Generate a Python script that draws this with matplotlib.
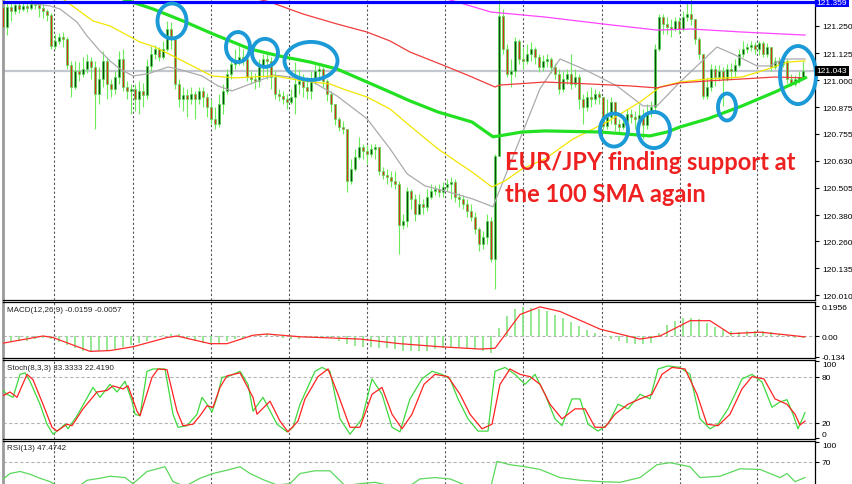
import matplotlib
matplotlib.use("Agg")
import matplotlib.pyplot as plt
import matplotlib.transforms as mtransforms
from matplotlib.patches import Ellipse
import numpy as np

# taille de l'image en pixels
W, H = 852, 485

# --- bougies EUR/JPY (une par barre) ---
first_open = 121.337
closes = [
    121.245, 121.337, 121.319, 121.346, 121.328, 121.342, 121.333, 121.351, 121.346, 121.333,
    121.319, 121.300, 121.158, 121.181, 121.199, 121.190, 121.070, 120.969, 121.043, 121.029,
    121.052, 121.089, 121.061, 120.937, 121.006, 121.089, 120.983, 120.960, 121.015, 121.098,
    120.969, 120.951, 120.960, 120.914, 120.951, 120.932, 121.066, 121.121, 121.144, 121.107,
    121.144, 121.236, 121.190, 120.983, 120.914, 120.932, 120.914, 120.937, 120.914, 120.951,
    120.923, 120.877, 120.822, 120.799, 120.891, 120.951, 121.029, 121.075, 121.089, 121.107,
    121.098, 121.015, 121.006, 120.997, 121.061, 121.098, 121.089, 121.015, 120.937, 120.928,
    120.914, 120.900, 120.923, 120.983, 120.997, 120.969, 120.951, 121.006, 121.043, 121.052,
    120.997, 120.937, 120.891, 120.822, 120.785, 120.776, 120.537, 120.592, 120.647, 120.693,
    120.675, 120.661, 120.684, 120.693, 120.583, 120.564, 120.555, 120.537, 120.523, 120.334,
    120.353, 120.491, 120.454, 120.385, 120.431, 120.417, 120.463, 120.491, 120.500, 120.486,
    120.509, 120.523, 120.532, 120.463, 120.454, 120.431, 120.399, 120.371, 120.316, 120.247,
    120.279, 120.353, 120.178, 120.652, 121.296, 121.144, 121.029, 121.043, 121.181, 121.098,
    121.089, 121.121, 121.144, 121.107, 121.061, 121.089, 121.098, 121.061, 121.029, 120.960,
    121.006, 121.029, 120.983, 121.015, 120.914, 120.877, 120.923, 120.914, 120.937, 120.923,
    120.790, 120.831, 120.900, 120.799, 120.785, 120.804, 120.845, 120.831, 120.822, 120.840,
    120.794, 120.854, 120.877, 121.144, 121.291, 121.259, 121.245, 121.236, 121.273, 121.236,
    121.291, 121.305, 121.282, 121.190, 121.121, 120.928, 120.969, 121.052, 121.015, 121.043,
    121.006, 121.052, 121.043, 121.070, 121.121, 121.144, 121.153, 121.162, 121.144, 121.172,
    121.121, 121.153, 121.061, 121.089, 121.075, 121.089, 121.006, 120.983, 121.006, 121.015,
    121.043,
]
highs = [
    121.360, 121.365, 121.356, 121.365, 121.356, 121.360, 121.356, 121.369, 121.365, 121.356,
    121.351, 121.328, 121.310, 121.213, 121.218, 121.222, 121.199, 121.089, 121.089, 121.084,
    121.107, 121.121, 121.107, 121.089, 121.061, 121.135, 121.107, 121.006, 121.043, 121.135,
    121.144, 120.997, 120.983, 120.983, 120.997, 120.988, 121.098, 121.158, 121.162, 121.153,
    121.181, 121.273, 121.268, 121.144, 121.006, 120.969, 120.960, 120.969, 120.951, 120.969,
    120.969, 120.942, 120.914, 120.877, 120.937, 120.983, 121.052, 121.107, 121.144, 121.158,
    121.144, 121.121, 121.043, 121.034, 121.098, 121.121, 121.121, 121.107, 121.043, 120.960,
    120.951, 120.937, 120.960, 121.084, 121.052, 121.029, 121.015, 121.043, 121.070, 121.070,
    121.061, 121.006, 120.951, 120.891, 120.831, 120.813, 120.776, 120.638, 120.684, 120.739,
    120.707, 120.702, 120.707, 120.707, 120.693, 120.601, 120.592, 120.583, 120.583, 120.537,
    120.385, 120.509, 120.500, 120.477, 120.477, 120.454, 120.500, 120.523, 120.518, 120.523,
    120.532, 120.546, 120.555, 120.546, 120.482, 120.472, 120.454, 120.431, 120.394, 120.325,
    120.307, 120.385, 120.371, 120.661, 121.369, 121.328, 121.167, 121.098, 121.199, 121.190,
    121.153, 121.167, 121.176, 121.153, 121.121, 121.116, 121.121, 121.107, 121.080, 121.052,
    121.043, 121.052, 121.121, 121.052, 121.029, 120.937, 120.951, 120.969, 120.960, 120.951,
    120.923, 120.914, 120.923, 120.900, 120.822, 120.831, 120.868, 120.868, 120.859, 120.891,
    120.868, 120.891, 120.905, 121.167, 121.305, 121.305, 121.291, 121.282, 121.291, 121.291,
    121.319, 121.360, 121.374, 121.282, 121.199, 121.121, 121.015, 121.075, 121.070, 121.070,
    121.061, 121.075, 121.080, 121.098, 121.144, 121.181, 121.172, 121.181, 121.176, 121.181,
    121.181, 121.172, 121.153, 121.107, 121.107, 121.116, 121.098, 121.029, 121.024, 121.043,
    121.089,
]
lows = [
    121.222, 121.208, 121.273, 121.305, 121.310, 121.319, 121.314, 121.323, 121.328, 121.291,
    121.287, 121.273, 121.144, 121.144, 121.167, 121.153, 121.052, 120.923, 120.960, 120.997,
    121.015, 121.034, 121.006, 120.776, 120.891, 120.969, 120.914, 120.923, 120.937, 120.983,
    120.951, 120.914, 120.845, 120.859, 120.845, 120.877, 120.914, 121.043, 121.098, 121.089,
    121.098, 121.135, 121.144, 120.960, 120.877, 120.859, 120.831, 120.891, 120.822, 120.891,
    120.877, 120.831, 120.799, 120.776, 120.785, 120.845, 120.937, 121.006, 121.052, 121.070,
    121.070, 120.997, 120.983, 120.960, 120.969, 121.015, 121.006, 120.960, 120.914, 120.905,
    120.891, 120.868, 120.891, 120.845, 120.937, 120.923, 120.914, 120.914, 120.983, 121.015,
    120.969, 120.905, 120.854, 120.794, 120.767, 120.753, 120.486, 120.523, 120.583, 120.638,
    120.638, 120.615, 120.647, 120.638, 120.564, 120.546, 120.523, 120.509, 120.500, 120.201,
    120.316, 120.325, 120.408, 120.353, 120.385, 120.385, 120.399, 120.454, 120.472, 120.463,
    120.463, 120.491, 120.454, 120.440, 120.417, 120.408, 120.371, 120.353, 120.293, 120.215,
    120.224, 120.247, 120.164, 120.040, 120.652, 121.121, 121.015, 120.969, 121.015, 121.075,
    121.052, 121.075, 121.089, 121.075, 121.038, 121.043, 121.061, 121.034, 121.006, 120.937,
    120.946, 120.983, 120.960, 120.969, 120.868, 120.799, 120.859, 120.877, 120.891, 120.891,
    120.776, 120.776, 120.799, 120.767, 120.753, 120.776, 120.794, 120.804, 120.776, 120.804,
    120.730, 120.776, 120.831, 120.859, 121.135, 121.213, 121.213, 121.199, 121.227, 121.213,
    121.227, 121.273, 121.254, 121.167, 121.098, 120.914, 120.914, 120.951, 120.974, 120.997,
    120.882, 120.997, 121.006, 121.015, 121.061, 121.107, 121.126, 121.135, 121.121, 121.116,
    121.107, 121.107, 121.043, 121.052, 121.043, 121.061, 120.988, 120.974, 120.974, 120.988,
    121.006,
]

# --- moyennes mobiles (index de barre, prix) ---
sma100_x = [28, 30, 37.5, 45, 52.5, 61.75, 69, 76.75, 83.5, 91, 96.75, 101.75, 108.75, 117.25,
            122.5, 124, 129.75, 135.5, 149.25, 161.75, 166, 169.25, 176.25, 184.75, 193, 201]
sma100_y = [121.392, 121.374, 121.328, 121.273, 121.213, 121.144, 121.112, 121.084, 121.052,
            120.992, 120.946, 120.905, 120.854, 120.808, 120.740, 120.744, 120.762, 120.767,
            120.762, 120.744, 120.762, 120.785, 120.823, 120.882, 120.946, 121.015]
sma_red_x = [62.5, 66.75, 75, 83.5, 91, 96.75, 101.75, 110.5, 117.25, 123, 124.25, 135.5,
             146.75, 156.75, 163.5, 169.25, 176.25, 184.75, 193, 200.5]
sma_red_y = [121.379, 121.360, 121.305, 121.259, 121.222, 121.181, 121.130, 121.066, 121.015,
             120.969, 120.978, 120.992, 120.983, 120.974, 120.965, 120.988, 120.997, 121.006,
             121.015, 121.011]
sma_pink_x = [108.5, 111, 122, 135.5, 150, 163.5, 172, 184.75, 200.5]
sma_pink_y = [121.383, 121.374, 121.314, 121.291, 121.259, 121.231, 121.236, 121.222, 121.208]
sma_yellow_x = [13, 15, 22.5, 26.75, 34.25, 38, 43, 52.25, 58, 67.75, 75, 81.75, 85, 91, 96.75,
                101.75, 108.75, 117.25, 122.25, 125.5, 129.75, 135.5, 142.5, 151, 159.25,
                164.25, 169.25, 176.25, 184.75, 191.25, 196.25, 200.5]
sma_yellow_y = [121.39, 121.374, 121.273, 121.250, 121.176, 121.153, 121.107, 121.020, 121.011,
                121.020, 120.997, 120.983, 120.960, 120.923, 120.868, 120.790, 120.684, 120.578,
                120.509, 120.537, 120.592, 120.638, 120.730, 120.808, 120.900, 120.969, 120.992,
                121.006, 121.015, 121.052, 121.084, 121.089]
sma_gray_x = [4.25, 11.75, 14.25, 18.5, 21, 24.25, 26.75, 29.25, 32.5, 36.25, 41.25, 43.75,
              49.75, 53.75, 57.25, 60.5, 67.75, 71.75, 77.5, 83.5, 91, 96.75, 101, 105.5,
              111.25, 117.25, 122.5, 134.25, 139.25, 145, 153.5, 160, 163.5, 169.25, 173.5,
              178.5, 182.5, 188.5, 191.75, 195, 200.5]
sma_gray_y = [121.360, 121.342, 121.328, 121.268, 121.204, 121.135, 121.089, 121.052, 121.020,
              121.030, 121.061, 121.052, 121.020, 120.974, 120.951, 120.974, 121.024, 121.015,
              120.992, 120.928, 120.823, 120.685, 120.570, 120.514, 120.487, 120.455, 120.418,
              120.961, 121.098, 121.053, 120.974, 120.882, 120.882, 120.992, 121.066, 121.153,
              121.121, 121.066, 121.066, 121.098, 121.098]

high_line = 121.359
last_price = 121.043
price_ticks = [121.250, 121.125, 121.000, 120.875, 120.755, 120.630, 120.505, 120.380,
               120.260, 120.135, 120.010]

# --- MACD(12,26,9) : histogramme une barre sur deux, signal en points ---
macd_hist = [
    -0.04, -0.04, -0.035, -0.03, -0.02, -0.015, -0.02, -0.04, -0.06, -0.08,
    -0.095, -0.1, -0.1, -0.095, -0.085, -0.07, -0.06, -0.045, -0.03, -0.015,
    0.005, 0.015, 0.01, -0.01, -0.03, -0.045, -0.05, -0.045, -0.035, -0.02,
    -0.01, 0.005, 0.015, 0.015, 0.005, -0.01, -0.02, -0.02, -0.015, -0.01,
    -0.01, -0.015, -0.03, -0.05, -0.065, -0.07, -0.07, -0.075, -0.08, -0.085,
    -0.095, -0.1, -0.1, -0.095, -0.085, -0.075, -0.07, -0.07, -0.075, -0.085,
    -0.1, -0.11, 0.05, 0.13, 0.175, 0.19, 0.185, 0.175, 0.16, 0.14,
    0.115, 0.09, 0.065, 0.04, 0.02, 0.0, -0.02, -0.035, -0.045, -0.05,
    -0.05, -0.045, 0.02, 0.07, 0.1, 0.115, 0.12, 0.11, 0.085, 0.06,
    0.04, 0.03, 0.025, 0.03, 0.035, 0.035, 0.025, 0.015, 0.005, -0.01,
    -0.016,
]
macd_sig_x = [-0.75, 10, 12.5, 21.75, 26.75, 32.5, 41, 43.5, 51.75, 56, 62.5, 66, 74.25, 89.25,
              99.25, 109.25, 119.25, 123, 129.25, 134.25, 139.25, 149.25, 159.25, 164.25,
              171.75, 176.75, 181.75, 189.25, 196.75, 200.5]
macd_sig_y = [-0.05, 0.0, -0.01, -0.1, -0.095, -0.07, -0.01, 0.0, -0.05, -0.05, 0.005, 0.013,
              -0.005, -0.02, -0.05, -0.07, -0.085, -0.08, 0.14, 0.19, 0.16, 0.045, -0.02, 0.0,
              0.1, 0.1, 0.015, 0.025, 0.005, -0.006]

# --- Stoch(8,3,3) ---
stoch_k_x = [-0.75, 1, 2.5, 4.25, 5.5, 6.75, 9.25, 11, 12.5, 14.25, 15.5, 16.25, 18.5, 22.5,
             24.25, 26.75, 28.5, 30.5, 32.25, 33, 34.25, 36, 37.5, 40.5, 42.5, 43.75, 46, 48.5,
             49.75, 51, 52.25, 53.5, 54.75, 56.75, 59.25, 61.25, 62.5, 65, 68.5, 71, 72.5,
             74.25, 78, 79.75, 81.75, 84.25, 86.75, 89.75, 92.25, 94.75, 97.25, 99.25, 101.75,
             104.75, 107.25, 109.75, 111.75, 113.75, 116.25, 118.75, 121.25, 123, 125.5, 128,
             130.5, 133, 135.5, 138, 139.75, 142.25, 144.25, 146.25, 148.75, 151.25, 153.75,
             156.25, 159.25, 161.75, 163.75, 166.25, 169.25, 171.75, 174.25, 176.75, 178.75,
             181.25, 183, 184.75, 187.25, 189.75, 192.25, 194.25, 196, 197.5, 198.75, 200.5]
stoch_k_y = [66, 57, 53, 83, 85, 74, 44, 18, 5, 12, 18, 12, 29, 66, 53, 70, 60, 74, 48, 31, 29,
             87, 90, 90, 31, 14, 16, 31, 53, 44, 34, 53, 79, 81, 87, 70, 35, 53, 18, 8, 14, 44,
             87, 92, 87, 25, 5, 25, 77, 57, 14, 8, 51, 77, 87, 83, 77, 51, 25, 9, 9, 87, 92, 83,
             70, 83, 57, 25, 16, 51, 51, 18, 9, 18, 44, 38, 57, 51, 90, 94, 92, 83, 25, 12, 18,
             38, 57, 77, 83, 73, 40, 47, 50, 31, 12, 33]
stoch_d_x = [-0.75, 1.75, 3.5, 6, 7.5, 10, 12.25, 13.5, 16, 17.25, 20, 23.5, 26, 27.5, 30,
             31.25, 33.5, 34.25, 37.25, 38.75, 41, 43.5, 45, 47.5, 49.25, 51, 52.5, 54.25, 56,
             59.25, 62.5, 63.5, 66.75, 69.25, 71.25, 73.75, 75.5, 78.75, 81.25, 83.75, 86.75,
             89.25, 92.25, 94.75, 97.25, 99.75, 102.25, 105.25, 108, 111.25, 114.25, 116.75,
             119.75, 122.25, 124.25, 126.75, 129.25, 131.75, 134.25, 136.75, 139.75, 143,
             145.5, 148, 150.5, 153, 156.25, 159.25, 162.25, 164.75, 167.25, 170.5, 173.5, 176,
             178.75, 181.75, 184.75, 187.25, 190.25, 193, 196, 198, 199.25, 200.5]
stoch_d_y = [53, 60, 53, 83, 76, 44, 14, 9, 18, 16, 38, 60, 62, 68, 64, 68, 35, 29, 79, 90, 89,
             35, 16, 18, 29, 42, 40, 66, 81, 85, 53, 31, 48, 22, 8, 22, 51, 80, 90, 57, 14, 14,
             57, 66, 31, 12, 31, 70, 83, 80, 57, 31, 12, 18, 70, 90, 83, 80, 70, 44, 25, 38, 38,
             14, 14, 31, 44, 51, 57, 83, 92, 90, 57, 18, 16, 31, 64, 80, 77, 51, 44, 31, 17, 22]

# --- RSI(13) ---
rsi_x = [-0.75, 1.75, 4.25, 6.75, 9.25, 11.75, 14.25, 18, 21, 24.25, 26.75, 30.5, 32.5, 36,
         40.5, 42.5, 45.5, 49.25, 52.5, 56.75, 59.25, 61.75, 65, 68.5, 71.75, 74.25, 78, 81.75,
         85.5, 89.25, 93, 96.75, 100.5, 104.25, 108, 111.75, 115.5, 119.25, 121.75, 123.5,
         126.75, 130.5, 134.25, 139.25, 144.25, 149.25, 154.25, 159.25, 163.5, 166.75, 171.75,
         174.25, 179.25, 184.25, 189.25, 194.25, 196, 198, 200.5]
rsi_y = [41, 53, 56, 52, 46, 41, 33, 30, 43, 46, 49, 47, 38, 56, 63, 41, 34, 46, 53, 59, 63,
         53, 44, 36, 38, 53, 57, 57, 35, 38, 40, 35, 30, 45, 47, 45, 36, 30, 28, 71, 66, 63, 59,
         47, 43, 41, 40, 47, 66, 69, 63, 47, 49, 60, 59, 47, 53, 41, 47]

# --- cercles bleus et texte d'annotation ---
circle_x = [42.25, 58.75, 65.5, 77, 152.75, 162.75, 181, 198.75]
circle_y = [121.273, 121.153, 121.126, 121.089, 120.771, 120.771, 120.877, 121.024]
circle_w = [7.25, 6, 6.5, 13.25, 7, 8, 4.5, 9]
circle_h = [0.161, 0.138, 0.129, 0.175, 0.152, 0.166, 0.124, 0.267]

# lignes verticales pointillées de la grille (index de barre)
grid_x = [12.75, 32.5, 52, 71.5, 91, 110.5, 130, 149.75, 169.25, 188.5]

fig = plt.figure(figsize=(W / 100, H / 100), dpi=100)
fig.patch.set_facecolor("white")


def px_axes(top, bottom):
    """Créer un axe à partir de bornes verticales en pixels."""
    return fig.add_axes([2.5 / W, 1 - bottom / H, (815 - 2.5) / W, (bottom - top) / H])


def style_panel(ax, ylim, ticks, labels):
    ax.set_xlim(-0.125, 203.0)
    ax.set_ylim(*ylim)
    ax.set_xticks([])
    ax.yaxis.tick_right()
    ax.set_yticks(ticks)
    ax.set_yticklabels(labels, fontsize=6, family="Liberation Sans")
    ax.tick_params(axis="y", length=3, width=0.8, pad=2, colors="black")
    ax.spines["left"].set_color("#9a9a9a")
    ax.spines["left"].set_linewidth(2)
    for s in ("right", "bottom", "top"):
        ax.spines[s].set_color("black")
        ax.spines[s].set_linewidth(0.9)
    for gx in grid_x:
        ax.axvline(gx, color="#555555", lw=0.8, ls=(0, (2, 2)), zorder=0)


# ---------------- graphique principal ----------------
ax = px_axes(0, 301)
style_panel(ax, (119.989, 121.374), price_ticks, [f"{v:.3f}" for v in price_ticks])
ax.spines["top"].set_visible(False)

ax.axhline(last_price, color="#c3c7cf", lw=1.6, zorder=1)
ax.axhline(high_line, color="#0000ff", lw=2.3, zorder=6)

idx = np.arange(len(closes))
c = np.array(closes)
o = np.r_[first_open, c[:-1]]
hi = np.maximum(np.array(highs), np.maximum(o, c))
lo = np.minimum(np.array(lows), np.minimum(o, c))
ax.vlines(idx, lo, hi, color="#6cec5a", lw=0.8, zorder=2)
bull = c >= o
body_h = np.maximum(np.abs(c - o), 0.002)
ax.bar(idx[bull], body_h[bull], bottom=np.minimum(o, c)[bull], width=0.72,
       color="#0e4a0e", edgecolor="#4fe04f", linewidth=0.5, zorder=3)
ax.bar(idx[~bull], body_h[~bull], bottom=np.minimum(o, c)[~bull], width=0.72,
       color="#d2341c", edgecolor="#4fe04f", linewidth=0.5, zorder=3)

ax.plot(sma_gray_x, sma_gray_y, color="#ababab", lw=0.9, zorder=4)
ax.plot(sma_yellow_x, sma_yellow_y, color="#f2e600", lw=0.9, zorder=4)
ax.plot(sma_red_x, sma_red_y, color="#f03c3c", lw=0.9, zorder=4)
ax.plot(sma_pink_x, sma_pink_y, color="#ff44ff", lw=0.9, zorder=4)
ax.plot(sma100_x, sma100_y, color="#22e022", lw=2.3, zorder=5, solid_capstyle="butt")

for cx, cy, cw, ch in zip(circle_x, circle_y, circle_w, circle_h):
    ax.add_patch(Ellipse((cx, cy), cw, ch, fill=False, edgecolor="#1c9ad8", lw=2.8,
                         zorder=7, clip_on=False))

ax.text(125.5, 120.592, "EUR/JPY finding support at", color="#ee2020", fontsize=17,
        family="Lato", fontweight="bold", va="baseline", zorder=8)
ax.text(125.5, 120.445, "the 100 SMA again", color="#ee2020", fontsize=17,
        family="Lato", fontweight="bold", va="baseline", zorder=8)

# étiquettes de prix encadrées à droite
trans = mtransforms.blended_transform_factory(ax.transAxes, ax.transData)
ax.text(1.002, high_line, "121.359", transform=trans, fontsize=6, family="Liberation Sans",
        color="white", va="center", ha="left", zorder=9, clip_on=False,
        bbox=dict(facecolor="#0000ff", edgecolor="none", pad=1.2))
ax.text(1.002, last_price, "121.043", transform=trans, fontsize=6, family="Liberation Sans",
        color="white", va="center", ha="left", zorder=9, clip_on=False,
        bbox=dict(facecolor="black", edgecolor="none", pad=1.2))

# ---------------- MACD ----------------
ax2 = px_axes(303, 359)
style_panel(ax2, (-0.1434, 0.2217), [0.1956, 0.0, -0.134], ["0.1956", "0.00", "-0.134"])
ax2.axhline(0, color="#b5b5b5", lw=0.8, ls=(0, (3, 2)), zorder=1)
hx = np.arange(len(macd_hist)) * 2
ax2.vlines(hx, 0, macd_hist, color="#8ee68e", lw=1.3, zorder=2)
ax2.plot(macd_sig_x, macd_sig_y, color="#ff2a2a", lw=0.9, zorder=3)
ax2.text(0.006, 0.93, "MACD(12,26,9) -0.0159 -0.0057", transform=ax2.transAxes,
         fontsize=5.8, family="Liberation Sans", color="#222222", va="top")

# ---------------- Stochastique ----------------
ax3 = px_axes(361, 440)
style_panel(ax3, (-1.3, 101.7), [100, 80, 20, 0], ["100", "80", "20", "0"])
ax3.get_yticklabels()[0].set_va("top")
ax3.get_yticklabels()[3].set_va("bottom")
for lvl in (80, 20):
    ax3.axhline(lvl, color="#b5b5b5", lw=0.8, ls=(0, (3, 2)), zorder=1)
ax3.plot(stoch_k_x, stoch_k_y, color="#3fd93f", lw=0.9, zorder=3)
ax3.plot(stoch_d_x, stoch_d_y, color="#ff2222", lw=0.9, zorder=3)
ax3.text(0.006, 0.95, "Stoch(8,3,3) 33.3333 22.4190", transform=ax3.transAxes,
         fontsize=5.8, family="Liberation Sans", color="#222222", va="top")

# ---------------- RSI ----------------
ax4 = px_axes(442, 485)
style_panel(ax4, (37.5, 101), [100, 70], ["100", "70"])
ax4.get_yticklabels()[0].set_va("top")
ax4.spines["bottom"].set_visible(False)
ax4.axhline(70, color="#b5b5b5", lw=0.8, ls=(0, (3, 2)), zorder=1)
ax4.plot(rsi_x, rsi_y, color="#5cd85c", lw=0.9, zorder=3)
ax4.text(0.006, 0.93, "RSI(13) 47.4742", transform=ax4.transAxes,
         fontsize=5.8, family="Liberation Sans", color="#222222", va="top")

fig.savefig("out.png", dpi=100, facecolor="white")
plt.close(fig)
